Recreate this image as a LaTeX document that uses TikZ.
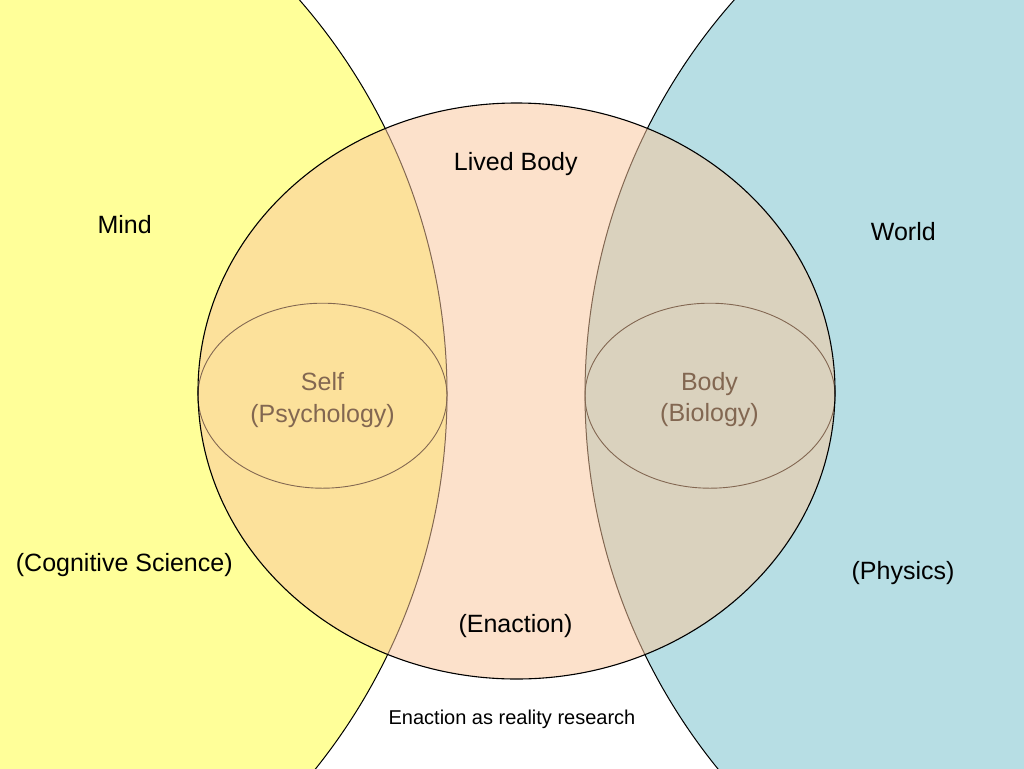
\documentclass[tikz,border=0pt]{standalone}
\usepackage{fontspec}
\setmainfont{Liberation Sans}
\usetikzlibrary{shapes.geometric}
\definecolor{mindyellow}{RGB}{255,255,153}
\definecolor{worldblue}{RGB}{183,222,228}
\definecolor{peach}{RGB}{251,199,157}
\tikzset{
  region/.style={ellipse, draw=black, line width=1pt, inner sep=0pt, outer sep=0pt},
  inner/.style={ellipse, draw=black, line width=0.9pt, inner sep=0pt, outer sep=0pt},
  lbl/.style={font=\fontsize{25}{31.7}\selectfont, inner sep=0pt, anchor=base, text=black},
  twoline/.style={font=\fontsize{25}{31.7}\selectfont, inner sep=0pt, align=center, text=black},
  small/.style={font=\fontsize{20}{24}\selectfont, inner sep=0pt, anchor=base, text=black}
}
\begin{document}
\begin{tikzpicture}[x=1pt,y=-1pt]
\useasboundingbox (0,0) rectangle (1024,768);
\clip (0,0) rectangle (1024,768);
\fill[white] (0,0) rectangle (1024,768);
% outer regions
\node[region, fill=mindyellow, minimum width=1200pt, minimum height=1200pt] (mind) at (-153,394) {};
\node[region, fill=worldblue, minimum width=1190pt, minimum height=1190pt] (world) at (1180,394) {};
% inner ellipses and their labels (seen through the translucent central disc)
\node[inner, minimum width=249pt, minimum height=185pt] (self) at (322.5,395.7) {};
\node[inner, minimum width=250pt, minimum height=185pt] (body) at (710,395.7) {};
\node[twoline] (selflbl) at (322.5,400.2) {Self\\(Psychology)};
\node[twoline] (bodylbl) at (709.5,399.4) {Body\\(Biology)};
% central translucent region
\node[ellipse, draw=black, line width=1.1pt, fill=peach, fill opacity=0.52, draw opacity=1,
      minimum width=637pt, minimum height=576pt, inner sep=0pt] (lived) at (516.5,391) {};
% labels
\node[lbl] (mindlbl) at (124.7,233.2) {Mind};
\node[lbl] (coglbl) at (124.3,571.5) {(Cognitive Science)};
\node[lbl] (worldlbl) at (903.3,240.6) {World};
\node[lbl] (physlbl) at (903,579) {(Physics)};
\node[lbl] (livedlbl) at (515.8,170.3) {Lived Body};
\node[lbl] (enactlbl) at (515.5,632) {(Enaction)};
\node[small] (reslbl) at (512,724) {Enaction as reality research};
\end{tikzpicture}
\end{document}
